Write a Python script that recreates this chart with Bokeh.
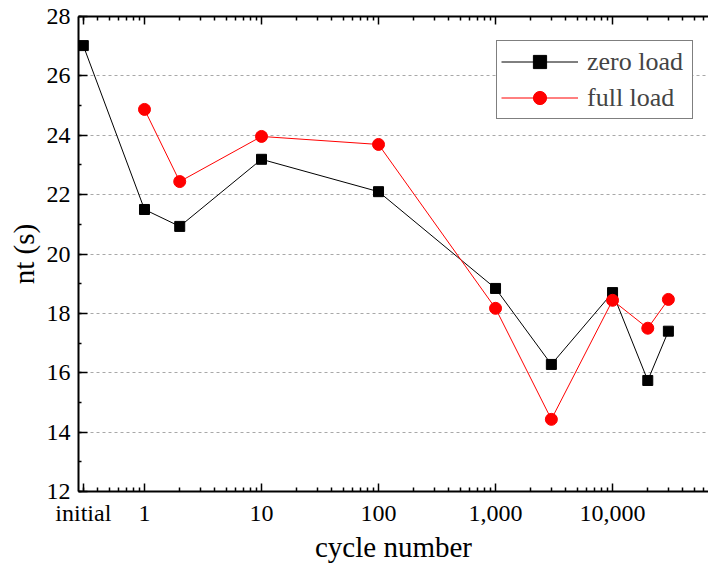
from bokeh.plotting import figure
from bokeh.models import (FixedTicker, LogAxis, SingleIntervalTicker, Legend, LegendItem,
                          Range1d, ColumnDataSource)
from bokeh.embed import file_html
from bokeh.resources import INLINE

# ---- data ----
x_zero = [0.3, 1, 2, 10, 100, 1000, 3000, 10000, 20000, 30000]
y_zero = [27.02, 21.5, 20.93, 23.19, 22.1, 18.84, 16.28, 18.7, 15.74, 17.4]
x_full = [1, 2, 10, 100, 1000, 3000, 10000, 20000, 30000]
y_full = [24.87, 22.44, 23.96, 23.69, 18.17, 14.43, 18.44, 17.5, 18.47]

x_ticks = [0.3, 1, 10, 100, 1000, 10000]
x_tick_labels = ["initial", "1", "10", "100", "1,000", "10,000"]
series_names = ["zero load", "full load"]

FONT = "'Liberation Serif', 'Times New Roman', serif"

minor = []
for d in range(-1, 5):
    for k in range(2, 10):
        v = k * 10 ** d
        if 0.27 < v < 70000:
            minor.append(float(v))

p = figure(frame_width=630, frame_height=475, x_axis_type="log",
           x_range=Range1d(10 ** -0.564, 10 ** 4.82), y_range=Range1d(12, 28),
           output_backend="svg", toolbar_location=None,
           min_border_left=78, min_border_right=0, min_border_top=16, min_border_bottom=66)
p.outline_line_color = None
p.background_fill_color = "white"
p.border_fill_color = "white"

xt = FixedTicker(ticks=x_ticks, minor_ticks=minor)
xa = p.xaxis[0]
xa.ticker = xt
xa.major_label_overrides = {t: l for t, l in zip(x_ticks, x_tick_labels)}
xa.axis_label = "cycle number"
ya = p.yaxis[0]
ya.ticker = SingleIntervalTicker(interval=2, num_minor_ticks=2)
ya.axis_label = "nt (s)"

for ax in (xa, ya):
    ax.axis_line_width = 2
    ax.axis_line_color = "black"
    ax.major_tick_in = 8
    ax.major_tick_out = 0
    ax.minor_tick_in = 4
    ax.minor_tick_out = 0
    ax.major_tick_line_width = 1.5
    ax.minor_tick_line_width = 1.5
    ax.major_label_text_font = FONT
    ax.major_label_text_font_size = "24px"
    ax.major_label_text_color = "black"
    ax.axis_label_text_font = FONT
    ax.axis_label_text_font_size = "29px"
    ax.axis_label_text_font_style = "normal"
    ax.axis_label_text_color = "black"
ya.major_tick_in = 9
ya.minor_tick_in = 3
xa.major_label_standoff = 8
ya.major_label_standoff = 8
xa.axis_label_standoff = 2
ya.axis_label_standoff = 4

top = LogAxis(ticker=FixedTicker(ticks=x_ticks, minor_ticks=minor),
              axis_line_width=2, major_tick_in=8, major_tick_out=0,
              minor_tick_in=4, minor_tick_out=0, major_tick_line_width=1.5,
              minor_tick_line_width=1.5, major_label_text_font_size="4px",
              major_label_text_color=None, major_label_standoff=0)
p.add_layout(top, "above")

p.xgrid.grid_line_color = None
p.ygrid.grid_line_color = "#a8a8a8"
p.ygrid.grid_line_dash = "3 3"
p.ygrid.grid_line_width = 1

src_z = ColumnDataSource(dict(x=x_zero, y=y_zero))
src_f = ColumnDataSource(dict(x=x_full, y=y_full))
lz = p.line("x", "y", source=src_z, line_color="black", line_width=1)
mz = p.scatter("x", "y", source=src_z, marker="square", size=10, fill_color="black", line_color="black")
lf = p.line("x", "y", source=src_f, line_color="red", line_width=1)
mf = p.scatter("x", "y", source=src_f, marker="circle", size=12, fill_color="red", line_color="red")

legend = Legend(items=[LegendItem(label=series_names[0], renderers=[lz, mz]),
                       LegendItem(label=series_names[1], renderers=[lf, mf])],
                location=(418, 372), glyph_width=77, glyph_height=33, spacing=3,
                padding=4, margin=0, label_standoff=9, label_width=101,
                label_text_font=FONT, label_text_font_size="26px",
                border_line_color="black", border_line_width=1,
                background_fill_alpha=1)
p.add_layout(legend, "center")

open("out.html", "w").write(file_html(p, INLINE))
